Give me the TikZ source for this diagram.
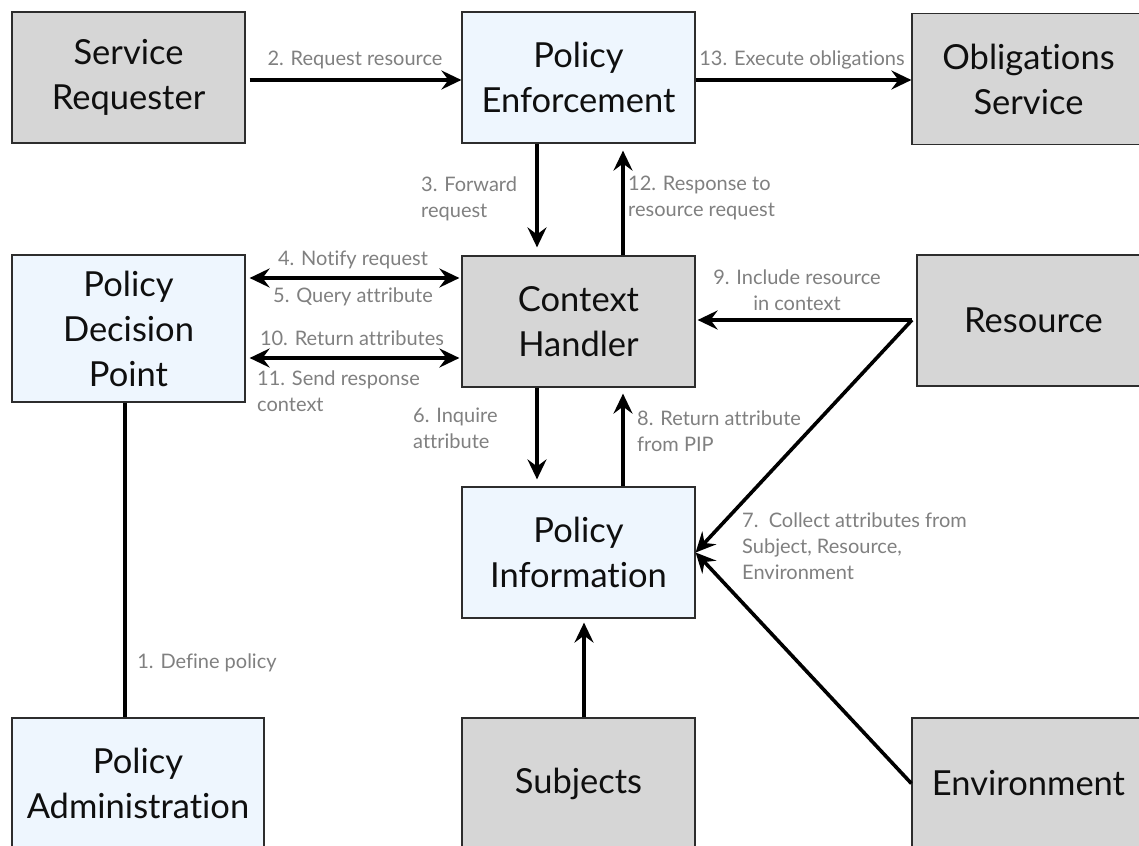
\documentclass[tikz,border=0pt]{standalone}
\usepackage{fontspec}
\setmainfont{Lato}[Ligatures=NoCommon]
\usetikzlibrary{arrows.meta,calc}
\definecolor{boxgrey}{RGB}{214,214,214}
\definecolor{boxblue}{RGB}{238,246,254}
\definecolor{labelgrey}{RGB}{128,128,128}
\definecolor{edgegrey}{RGB}{45,45,45}
\definecolor{boxtext}{RGB}{15,15,15}

\begin{document}
\begin{tikzpicture}[x=1pt,y=-1pt,
  box/.style={draw=edgegrey, line width=1.2pt, minimum width=233pt,
    minimum height=131pt, align=center, inner sep=0pt, text=boxtext,
    font=\fontsize{34.5}{45}\selectfont},
  greybox/.style={box, fill=boxgrey},
  bluebox/.style={box, fill=boxblue},
  lbl/.style={text=labelgrey, inner sep=0pt,
    font=\fontsize{20}{26}\selectfont},
  flow/.style={line width=3.6pt, -{Stealth[length=20pt,width=19pt,inset=7pt]}},
  twoway/.style={line width=3.6pt,
    {Stealth[length=20pt,width=19pt,inset=7pt]}-{Stealth[length=20pt,width=19pt,inset=7pt]}},
  link/.style={line width=3.6pt}
]
\clip (0,0) rectangle (1139,845);
\fill[white] (0,0) rectangle (1139,845);

% components
\node[greybox] (sr)  at (128.5,77.5) {Service\\Requester};
\node[bluebox] (pe)  at (578.5,77.5) {Policy\\Enforcement};
\node[greybox] (os)  at (1028.5,79)  {Obligations\\Service};
\node[bluebox, minimum height=147pt] (pdp) at (128.5,328.5) {Policy\\Decision\\Point};
\node[greybox] (ch)  at (578.5,321.5) {Context\\Handler};
\node[greybox] (res) at (1033.5,320.5) {Resource};
\node[bluebox] (pip) at (578.5,552.5) {Policy\\Information};
\node[bluebox, minimum width=252pt] (pap) at (138,783.5) {Policy\\Administration};
\node[greybox] (sub) at (578.5,783.5) {Subjects};
\node[greybox] (env) at (1028.5,783.5) {Environment};

% routing points
\coordinate (r2) at (0,80);
\coordinate (r4) at (0,278);
\coordinate (r10) at (0,358);
\coordinate (cl) at (537,0);
\coordinate (cr) at (623,0);
\coordinate (cs) at (584,0);
\coordinate (cp) at (125,0);
\coordinate (rj) at (912,320);

% connectors
\draw[flow, shorten <=4pt] (sr.east |- r2) -- (pe.west |- r2);
\draw[flow] (pe.east |- r2) -- (os.west |- r2);
\draw[flow, shorten >=8pt] (pe.south -| cl) -- (ch.north -| cl);
\draw[flow, shorten >=7pt] (ch.north -| cr) -- (pe.south -| cr);
\draw[twoway, shorten <=4pt, shorten >=2pt] (pdp.east |- r4) -- (ch.west |- r4);
\draw[twoway, shorten <=4pt, shorten >=2pt] (pdp.east |- r10) -- (ch.west |- r10);
\draw[flow, shorten >=7pt] (ch.south -| cl) -- (pip.north -| cl);
\draw[flow, shorten >=6pt] (pip.north -| cr) -- (ch.south -| cr);
\draw[flow, shorten >=2pt] (rj) -- (ch.east |- rj);
\draw[flow] (rj) -- (pip.east);
\draw[flow] (env.west) -- (pip.east);
\draw[flow, shorten >=4pt] (sub.north -| cs) -- (pip.south -| cs);
\draw[link] (pdp.south -| cp) -- (pap.north -| cp);

% step labels
\node[lbl] (l2) at (355,60) {2. Request resource};
\node[lbl] (l13) at (802,60) {13. Execute obligations};
\node[lbl, anchor=west, align=left] (l3) at (421,199) {3. Forward\\request};
\node[lbl, anchor=west, align=left] (l12) at (628,198) {12. Response to\\resource request};
\node[lbl] (l4) at (353,260) {4. Notify request};
\node[lbl] (l5) at (353,297) {5. Query attribute};
\node[lbl] (l10) at (352,338) {10. Return attributes};
\node[lbl, anchor=west, align=left] (l11) at (257,391) {11. Send response\\context};
\node[lbl, align=center] (l9) at (797,290) {9. Include resource\\in context};
\node[lbl, anchor=west, align=left] (l6) at (413,428) {6. Inquire\\attribute};
\node[lbl, anchor=west, align=left] (l8) at (637,431) {8. Return attribute\\from PIP};
\node[lbl, anchor=west, align=left] (l7) at (742,546) {7.\ \ Collect attributes from\\Subject, Resource,\\Environment};
\node[lbl] (l1) at (207,663) {1. Define policy};
\end{tikzpicture}
\end{document}
